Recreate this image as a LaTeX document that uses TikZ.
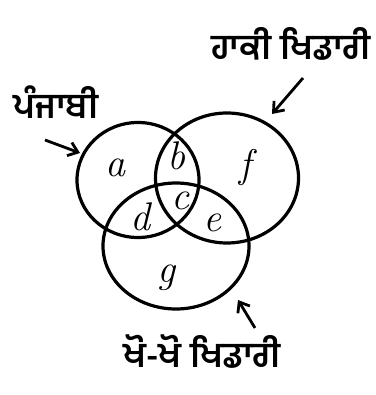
\documentclass[tikz,border=0pt]{standalone}
\usepackage{fontspec}
\newfontfamily\gurfont[Script=Gurmukhi]{Hind Jalandhar}
\usetikzlibrary{arrows.meta,shapes.geometric}
\begin{document}
\begin{tikzpicture}[x=1pt,y=-1pt,
  setcircle/.style={draw=black,line width=3.2pt,ellipse,inner sep=0pt},
  region/.style={inner sep=0pt,font=\fontsize{40}{40}\selectfont\itshape},
  setlabel/.style={font=\gurfont\fontsize{35}{35}\selectfont\bfseries},
  pointer/.style={draw=black,line width=2.8pt,-{Straight Barb[length=9pt,width=14pt]}}]
\useasboundingbox (0,0) rectangle (375,395);
\node[setcircle,minimum width=122pt,minimum height=115pt] (P) at (138,180) {};
\node[setcircle,minimum width=143pt,minimum height=130pt] (H) at (227,178) {};
\node[setcircle,minimum width=146pt,minimum height=126pt] (K) at (176,246) {};
\node[region] (a) at (115,168) {a};
\node[region] (b) at (176,156) {b};
\node[region] (c) at (180,201) {c};
\node[region] (d) at (140,217) {d};
\node[region] (e) at (212,223) {e};
\node[region] (f) at (245,168) {f};
\node[region] (g) at (166,278) {g};
\node[setlabel] (lp) at (56,102) {ਪੰਜਾਬੀ};
\node[setlabel] (lh) at (291,44) {ਹਾਕੀ ਖਿਡਾਰੀ};
\node[setlabel] (lk) at (202,352) {ਖੋ-ਖੋ ਖਿਡਾਰੀ};
\coordinate (pt) at (45,140);
\coordinate (ph) at (80,153);
\coordinate (ht) at (303,78);
\coordinate (hh) at (272,114);
\coordinate (kt) at (255,328);
\coordinate (kh) at (238,300);
\draw[pointer] (pt) -- (ph);
\draw[pointer] (ht) -- (hh);
\draw[pointer] (kt) -- (kh);
\end{tikzpicture}
\end{document}
